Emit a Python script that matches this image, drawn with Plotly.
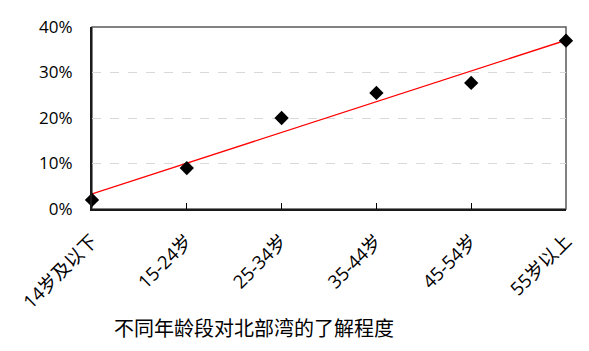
import numpy as np
import plotly.graph_objects as go

categories = ["14岁及以下", "15-24岁", "25-34岁", "35-44岁", "45-54岁", "55岁以上"]
values = [0.02, 0.09, 0.20, 0.255, 0.277, 0.37]
y_ticks = [0, 0.1, 0.2, 0.3, 0.4]
y_tick_labels = ["0%", "10%", "20%", "30%", "40%"]
title_text = "不同年龄段对北部湾的了解程度"

xs = np.arange(len(categories))
slope, intercept = np.polyfit(xs, values, 1)
trend = [intercept + slope * xs[0], intercept + slope * xs[-1]]

fig = go.Figure()
fig.add_trace(go.Scatter(
    x=[xs[0], xs[-1]], y=trend, mode="lines",
    line=dict(color="#ff0000", width=1.3), showlegend=False, hoverinfo="skip",
))
fig.add_trace(go.Scatter(
    x=xs, y=values, mode="markers",
    marker=dict(symbol="diamond", size=11, color="black"),
    showlegend=False, cliponaxis=False,
))

font_family = "Open Sans, Noto Sans CJK SC, sans-serif"
fig.update_layout(
    width=589, height=351,
    margin=dict(l=92, r=23, t=27, b=142),
    paper_bgcolor="white", plot_bgcolor="white",
    font=dict(family=font_family, size=14, color="black"),
    xaxis=dict(
        range=[0, 5], tickmode="array", tickvals=list(xs), ticktext=categories,
        tickangle=-45, ticks="inside", ticklen=6, tickwidth=1, tickcolor="black",
        showline=True, linecolor="#1a1a1a", linewidth=2, mirror=False,
        showgrid=False, zeroline=False, ticklabelstandoff=12,
        tickfont=dict(size=18.5, family=font_family),
    ),
    yaxis=dict(
        range=[0, 0.4], tickmode="array", tickvals=y_ticks, ticktext=y_tick_labels,
        showline=True, linecolor="#1a1a1a", linewidth=2, mirror=False,
        showgrid=True, gridcolor="#d9d9d9", griddash="dash", gridwidth=1,
        zeroline=False, ticks="", ticklabelstandoff=14,
        tickfont=dict(size=17, family=font_family),
    ),
    shapes=[dict(
        type="rect", xref="paper", yref="paper", x0=0, x1=1, y0=0, y1=1,
        line=dict(color="#595959", width=1.5), layer="below",
    )],
    annotations=[dict(
        text=title_text, xref="paper", yref="paper",
        x=(254 - 92) / (566 - 92), y=-(327 - 209) / (209 - 27),
        xanchor="center", yanchor="middle", showarrow=False,
        font=dict(size=20, family="Noto Sans CJK SC, sans-serif", color="black"),
    )],
)

fig.write_html("out.html")
